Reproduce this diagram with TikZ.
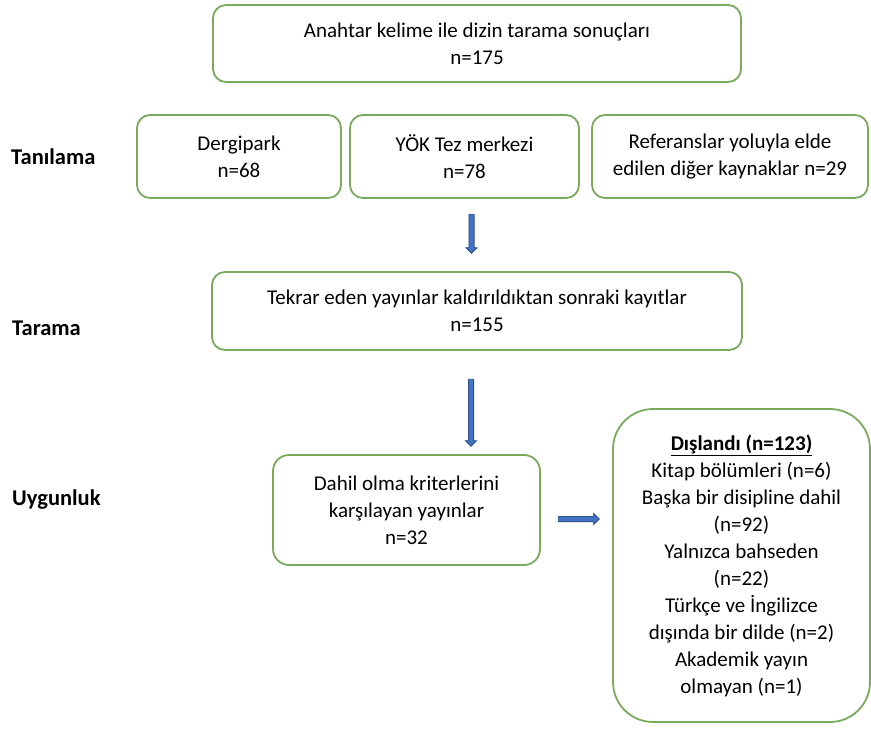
\documentclass[tikz,border=0pt]{standalone}
\usepackage{fontspec}
\setmainfont{Carlito}
\usetikzlibrary{shapes.arrows}
\definecolor{boxgreen}{RGB}{122,170,92}
\definecolor{arrfill}{RGB}{68,114,196}
\definecolor{arrline}{RGB}{47,82,143}
\tikzset{
  box/.style={draw=boxgreen, line width=1.8pt, rounded corners=13pt, fill=white,
    align=center, inner sep=0pt, font=\fontsize{21}{27}\selectfont},
  lbl/.style={anchor=west, inner sep=0pt, font=\fontsize{22.5}{27}\selectfont\bfseries},
  blockarrow/.style={single arrow, draw=arrline, fill=arrfill, line width=0.8pt,
    inner sep=2.2pt, single arrow head extend=3pt, single arrow tip angle=90,
    minimum height=#1},
}
\begin{document}
\begin{tikzpicture}[x=1pt,y=-1pt]
\useasboundingbox (0,0) rectangle (871,729);
% top
\node[box, minimum width=528, minimum height=77] (top) at (477,43.5)
  {Anahtar kelime ile dizin tarama sonuçları\\n=175};
% row 2
\node[box, minimum width=204, minimum height=83] (derg) at (239,156.5)
  {Dergipark\\n=68};
\node[box, minimum width=229, minimum height=83] (yok) at (464.5,156.5)
  {YÖK Tez merkezi\\n=78};
\node[box, minimum width=276, minimum height=83] (ref) at (730,156.5)
  {Referanslar yoluyla elde\\edilen diğer kaynaklar n=29};
% tarama
\node[box, minimum width=530, minimum height=78] (tar) at (477,311)
  {Tekrar eden yayınlar kaldırıldıktan sonraki kayıtlar\\n=155};
% dahil
\node[box, minimum width=267, minimum height=110, rounded corners=16pt] (dah) at (406.5,510)
  {Dahil olma kriterlerini\\karşılayan yayınlar\\n=32};
% dislandi
\node[box, minimum width=257, minimum height=313, rounded corners=40pt] (dis) at (741.5,565.5)
  {\underline{\textbf{Dışlandı (n=123)}}\\Kitap bölümleri (n=6)\\Başka bir disipline dahil\\(n=92)\\Yalnızca bahseden\\(n=22)\\Türkçe ve İngilizce\\dışında bir dilde (n=2)\\Akademik yayın\\olmayan (n=1)};
% labels
\node[lbl] (l1) at (11,157) {Tanılama};
\node[lbl] (l2) at (12,328) {Tarama};
\node[lbl] (l3) at (12,500) {Uygunluk};
% arrows
\node[blockarrow=39pt, shape border rotate=270] (a1) at (471.5,232.5) {};
\node[blockarrow=67pt, shape border rotate=270] (a2) at (471,411.5) {};
\node[blockarrow=41pt] (a3) at (577.5,519) {};
\end{tikzpicture}
\end{document}
